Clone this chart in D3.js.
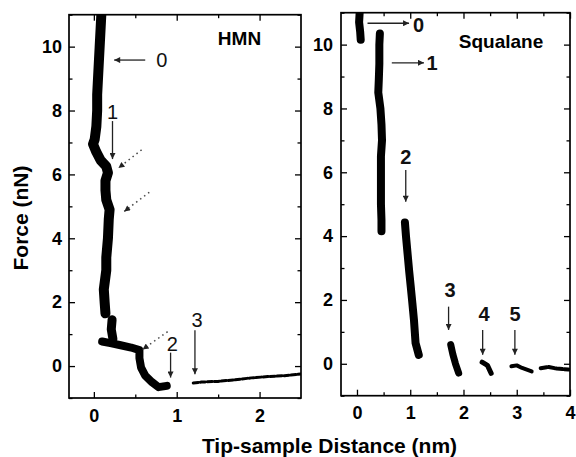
<!DOCTYPE html>
<html>
<head>
<meta charset="utf-8">
<script src="https://cdn.jsdelivr.net/npm/d3@7"></script>
<style>
  body { margin: 0; background: #fff; }
  svg { display: block; }
  text { font-family: "Liberation Sans", Arial, sans-serif; }
</style>
</head>
<body>
<svg id="chart" width="576" height="457"></svg>
<script>
//  data (x in nm, y in nN)
const hmnApproach = [[0.09,11.0],[0.08,10.5],[0.07,10.0],[0.06,9.5],[0.05,9.0],[0.04,8.5],[0.04,8.0],
  [0.03,7.5],[0.01,7.1],[-0.01,6.95],[0.03,6.7],[0.08,6.45],[0.15,6.25],[0.17,6.05],[0.14,5.8],
  [0.14,5.5],[0.15,5.2],[0.19,4.9],[0.18,4.6],[0.17,4.0],[0.15,3.4],[0.15,3.0],[0.12,2.4],[0.13,2.0],[0.14,1.65]];
const hmnLayer = [[0.22,1.45],[0.21,1.15],[0.23,0.85]];
const hmnSlope = [[0.1,0.77],[0.2,0.72],[0.31,0.66],[0.45,0.58],[0.55,0.5],[0.55,0.25],[0.57,-0.05],
  [0.62,-0.3],[0.7,-0.5],[0.78,-0.66],[0.88,-0.62]];
const hmnFar = [[1.2,-0.53],[1.3,-0.5],[1.5,-0.48],[1.7,-0.43],[1.9,-0.37],[2.1,-0.33],[2.3,-0.3],[2.5,-0.25]];

const sq0 = [[0.05,11.0],[0.04,10.7],[0.06,10.4],[0.07,10.15]];
const sq1 = [[0.43,10.35],[0.42,10.0],[0.42,9.4],[0.41,8.9],[0.40,8.5],[0.44,8.0],[0.46,7.5],[0.47,7.0],
  [0.45,6.5],[0.45,6.0],[0.45,5.5],[0.45,5.0],[0.46,4.5],[0.46,4.15]];
const sq2 = [[0.9,4.43],[0.92,4.0],[0.95,3.45],[0.98,2.9],[1.01,2.41],[1.04,1.9],[1.07,1.37],[1.1,0.65],[1.16,0.28]];
const sq3 = [[1.76,0.6],[1.8,0.3],[1.85,0.0],[1.91,-0.29]];
const sq4 = [[2.35,0.05],[2.45,-0.05],[2.52,-0.3]];
const sq5 = [[2.9,-0.08],[3.0,-0.05],[3.1,-0.13],[3.28,-0.24]];
const sq6 = [[3.45,-0.14],[3.6,-0.1],[3.75,-0.15],[3.97,-0.18]];

//  annotations: labels and arrows in data units
const hmnLabels = [["0",0.82,9.57],["1",0.225,7.96],["2",0.947,0.68],["3",1.245,1.43]];
const hmnArrows = [[0.62,9.58,0.245,9.58,0],[0.225,7.67,0.225,6.48,0],[0.926,0.42,0.926,-0.36,0],
  [1.22,1.12,1.22,-0.26,0],[0.576,6.77,0.297,6.2,1],[0.669,5.44,0.366,4.84,1],[0.89,1.075,0.588,0.52,1]];
const sqLabels = [["0",1.155,10.61],["1",1.41,9.41],["2",0.916,6.49],["3",1.75,2.3],["4",2.385,1.55],["5",2.97,1.55]];
const sqArrows = [[0.198,10.67,0.978,10.67,0],[0.654,9.43,1.258,9.43,0],[0.916,6.07,0.916,5.08,0],
  [1.72,1.79,1.72,1.06,0],[2.36,1.06,2.36,0.28,0],[2.965,1.06,2.965,0.28,0]];

const yMajor = [0, 2, 4, 6, 8, 10];
const yMinor = [-1, 1, 3, 5, 7, 9, 11];
const hmnXMajor = [0, 1, 2];
const hmnXMinor = [0.5, 1.5];
const sqXMajor = [0, 1, 2, 3, 4];
const sqXMinor = [0.5, 1.5, 2.5, 3.5];

const svg = d3.select("#chart");
svg.append("rect").attr("width", 576).attr("height", 457).attr("fill", "#fff");

//  arrow heads
const defs = svg.append("defs");
defs.append("marker")
  .attr("id", "head")
  .attr("markerUnits", "userSpaceOnUse")
  .attr("viewBox", "0 0 10 10")
  .attr("refX", 10).attr("refY", 5)
  .attr("markerWidth", 9).attr("markerHeight", 6)
  .attr("orient", "auto")
  .append("path").attr("d", "M0,0 L10,5 L0,10 z").attr("fill", "#222");

function draw_panel(p) {
  const x = d3.scaleLinear().domain(p.xDomain).range(p.xRange);
  const y = d3.scaleLinear().domain([-1, 11]).range(p.yRange);
  const g = svg.append("g");

  //  ticks (inward, all four sides)
  const tickStyle = sel => {
    sel.select(".domain").remove();
    sel.selectAll("line").attr("stroke", "#000").attr("stroke-width", 1.3);
    sel.selectAll("text").style("font-size", "18px").style("font-weight", "bold").attr("fill", "#000");
  };
  g.append("g").attr("transform", `translate(0,${p.yRange[0]})`)
    .call(d3.axisBottom(x).tickValues(p.xMajor).tickFormat(d3.format("d")).tickSizeInner(-6).tickSizeOuter(0).tickPadding(11))
    .attr("font-family", null).call(tickStyle);
  g.append("g").attr("transform", `translate(0,${p.yRange[0]})`)
    .call(d3.axisBottom(x).tickValues(p.xMinor).tickFormat("").tickSizeInner(-3.5).tickSizeOuter(0))
    .call(tickStyle);
  g.append("g").attr("transform", `translate(0,${p.yRange[1]})`)
    .call(d3.axisTop(x).tickValues(p.xMajor).tickFormat("").tickSizeInner(-6).tickSizeOuter(0))
    .call(tickStyle);
  g.append("g").attr("transform", `translate(0,${p.yRange[1]})`)
    .call(d3.axisTop(x).tickValues(p.xMinor).tickFormat("").tickSizeInner(-3.5).tickSizeOuter(0))
    .call(tickStyle);
  g.append("g").attr("transform", `translate(${p.xRange[0]},0)`)
    .call(d3.axisLeft(y).tickValues(yMajor).tickSizeInner(-6).tickSizeOuter(0).tickPadding(p.yPad))
    .attr("font-family", null).call(tickStyle);
  g.append("g").attr("transform", `translate(${p.xRange[0]},0)`)
    .call(d3.axisLeft(y).tickValues(yMinor).tickFormat("").tickSizeInner(-3.5).tickSizeOuter(0))
    .call(tickStyle);
  g.append("g").attr("transform", `translate(${p.xRange[1]},0)`)
    .call(d3.axisRight(y).tickValues(yMajor).tickFormat("").tickSizeInner(-6).tickSizeOuter(0))
    .call(tickStyle);
  g.append("g").attr("transform", `translate(${p.xRange[1]},0)`)
    .call(d3.axisRight(y).tickValues(yMinor).tickFormat("").tickSizeInner(-3.5).tickSizeOuter(0))
    .call(tickStyle);

  //  frame
  g.append("rect")
    .attr("x", p.xRange[0]).attr("y", p.yRange[1])
    .attr("width", p.xRange[1] - p.xRange[0]).attr("height", p.yRange[0] - p.yRange[1])
    .attr("fill", "none").attr("stroke", "#000").attr("stroke-width", 1.7);

  //  data bands, clipped to the frame
  const clipId = "clip" + p.title;
  defs.append("clipPath").attr("id", clipId).append("rect")
    .attr("x", p.xRange[0]).attr("y", p.yRange[1])
    .attr("width", p.xRange[1] - p.xRange[0]).attr("height", p.yRange[0] - p.yRange[1]);
  const dg = g.append("g").attr("clip-path", `url(#${clipId})`);
  const line = d3.line().x(d => x(d[0])).y(d => y(d[1]));
  p.series.forEach(s => {
    dg.append("path")
      .attr("d", line(s.pts))
      .attr("fill", "none")
      .attr("stroke", "#000")
      .attr("stroke-width", s.w)
      .attr("stroke-linejoin", "round")
      .attr("stroke-linecap", "round")
      .attr("stroke-dasharray", s.dash || null);
  });

  //  arrows
  p.arrows.forEach(a => {
    g.append("line")
      .attr("x1", x(a[0])).attr("y1", y(a[1]))
      .attr("x2", x(a[2])).attr("y2", y(a[3]))
      .attr("stroke", a[4] ? "#444" : "#222")
      .attr("stroke-width", a[4] ? 1.5 : 1.3)
      .attr("stroke-dasharray", a[4] ? "1.5,3.5" : null)
      .attr("marker-end", "url(#head)");
  });

  //  labels
  p.labels.forEach(l => {
    g.append("text")
      .attr("x", x(l[1])).attr("y", y(l[2]))
      .attr("text-anchor", "middle")
      .attr("dominant-baseline", "central")
      .style("font-size", "20px")
      .style("font-weight", p.labelBold ? "bold" : "normal")
      .attr("fill", "#111")
      .text(l[0]);
  });

  //  panel title
  g.append("text")
    .attr("x", p.titleX).attr("y", p.titleY)
    .attr("text-anchor", "middle")
    .style("font-size", "19px").style("font-weight", "bold")
    .text(p.title);
}

draw_panel({
  xDomain: [-0.3, 2.5], xRange: [69, 301], yRange: [398, 14.7], yPad: 7,
  xMajor: hmnXMajor, xMinor: hmnXMinor,
  series: [{pts: hmnApproach, w: 10}, {pts: hmnLayer, w: 9}, {pts: hmnSlope, w: 8}, {pts: hmnFar, w: 3, dash: "5,2"}],
  arrows: hmnArrows, labels: hmnLabels, labelBold: false,
  title: "HMN", titleX: 239.5, titleY: 45
});

draw_panel({
  xDomain: [-0.3, 4], xRange: [341, 570], yRange: [395.7, 12.7], yPad: 8,
  xMajor: sqXMajor, xMinor: sqXMinor,
  series: [{pts: sq0, w: 8}, {pts: sq1, w: 8}, {pts: sq2, w: 8}, {pts: sq3, w: 7}, {pts: sq4, w: 5}, {pts: sq5, w: 4}, {pts: sq6, w: 4, dash: "6,2"}],
  arrows: sqArrows, labels: sqLabels, labelBold: true,
  title: "Squalane", titleX: 501, titleY: 48
});

//  axis titles
svg.append("text")
  .attr("transform", "translate(28,218) rotate(-90)")
  .attr("text-anchor", "middle")
  .style("font-size", "21px").style("font-weight", "bold")
  .text("Force (nN)");

svg.append("text")
  .attr("x", 329.5).attr("y", 453)
  .attr("text-anchor", "middle")
  .style("font-size", "21px").style("font-weight", "bold")
  .text("Tip-sample Distance (nm)");
</script>
</body>
</html>
